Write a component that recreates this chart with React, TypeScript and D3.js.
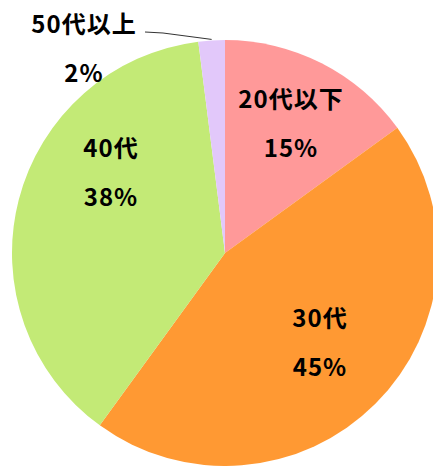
import { useEffect, useRef } from 'react';
import * as d3 from 'd3';

const categories = ['20代以下', '30代', '40代', '50代以上'];
const shares = [15, 45, 38, 2];
const colors = ['#FF9999', '#FF9933', '#C3EA76', '#E2C8FA'];

// label anchors relative to pie centre (Excel places these by hand)
const labelOffsets = [
  [66, -145],
  [95, 74],
  [-114, -96],
  [-141, -220],
];

const W = 433;
const H = 466;

const App = () => {
  const svgRef = useRef<SVGSVGElement>(null);

  useEffect(() => {
    const svg = d3.select(svgRef.current);
    svg.selectAll('*').remove();

    const cx = 225;
    const cy = 253;
    const radius = 213;

    const data = categories.map((name, i) => ({ name, value: shares[i], color: colors[i] }));

    const pie = d3.pie<any>().value(d => d.value).sort(null);
    const arc = d3.arc<any>().innerRadius(0).outerRadius(radius);

    const g = svg.append('g').attr('transform', `translate(${cx}, ${cy})`);
    const arcs = pie(data);

    g.selectAll('path')
      .data(arcs)
      .enter()
      .append('path')
      .attr('d', arc)
      .attr('fill', d => d.data.color);

    // leader line for the small slice
    const small = arcs[3];
    const mid = (small.startAngle + small.endAngle) / 2;
    const edge = [radius * Math.sin(mid), -radius * Math.cos(mid) - 1];
    g.append('polyline')
      .attr('points', `${-80},${-221} ${-62},${-220} ${edge[0]},${edge[1]}`)
      .attr('fill', 'none')
      .attr('stroke', '#333')
      .attr('stroke-width', 1);

    const labels = g.selectAll('g.lbl')
      .data(arcs)
      .enter()
      .append('g')
      .attr('class', 'lbl')
      .attr('transform', (d, i) => `translate(${labelOffsets[i][0]}, ${labelOffsets[i][1]})`);

    const font = "'Noto Sans CJK JP', 'Noto Sans', sans-serif";
    labels.append('text')
      .attr('text-anchor', 'middle')
      .attr('y', 0)
      .style('font-family', font)
      .style('font-size', '24px')
      .style('font-weight', 'bold')
      .style('letter-spacing', '1px')
      .attr('fill', '#000')
      .text(d => d.data.name);

    labels.append('text')
      .attr('text-anchor', 'middle')
      .attr('y', 49)
      .style('font-family', font)
      .style('font-size', '24px')
      .style('font-weight', 'bold')
      .style('letter-spacing', '1px')
      .attr('fill', '#000')
      .text(d => `${d.data.value}%`);
  }, []);

  return <svg ref={svgRef} width={W} height={H} style={{ position: 'absolute', left: 0, top: 0 }}></svg>;
};

export default App;
